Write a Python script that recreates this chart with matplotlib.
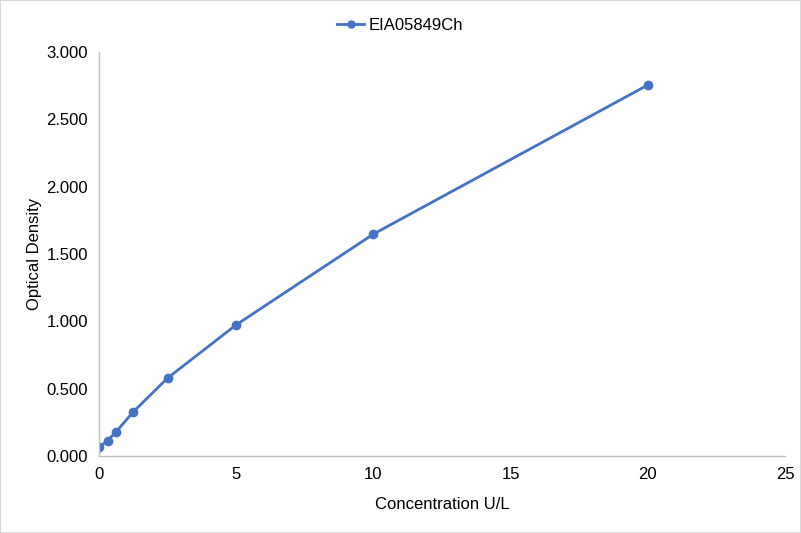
import matplotlib
matplotlib.use("Agg")
import matplotlib.pyplot as plt
from matplotlib.patches import Rectangle

plt.rcParams['font.family'] = ['Liberation Sans', 'DejaVu Sans']

# data
conc = [0, 0.3125, 0.625, 1.25, 2.5, 5, 10, 20]
od = [0.065, 0.114, 0.180, 0.328, 0.579, 0.974, 1.648, 2.755]
series_name = 'EIA05849Ch'

fig = plt.figure(figsize=(8.01, 5.33), dpi=100)
ax = fig.add_axes([99/801, 1-456/533, (785-99)/801, (456-52)/533])

ax.plot(conc, od, color='#4472C4', linewidth=2, marker='o', markersize=6,
        label=series_name)

ax.set_xlim(0, 25)
ax.set_ylim(0, 3.0)
ax.set_xticks([0, 5, 10, 15, 20, 25])
ax.set_yticks([0, 0.5, 1.0, 1.5, 2.0, 2.5, 3.0])
ax.set_yticklabels(['%.3f' % v for v in ax.get_yticks()])

for s in ['top', 'right']:
    ax.spines[s].set_visible(False)
for s in ['left', 'bottom']:
    ax.spines[s].set_color('#BFBFBF')
    ax.spines[s].set_linewidth(1)
ax.tick_params(length=0, labelsize=12, colors='black', pad=8)

ax.set_xlabel('Concentration U/L', fontsize=12, labelpad=11)
ax.set_ylabel('Optical Density', fontsize=12, labelpad=3)

# legend is centred on the whole figure, not on the plot area
leg = fig.legend(loc='upper center', bbox_to_anchor=(0.5, 0.995), frameon=False,
                 fontsize=12, handlelength=1.6, handletextpad=0.3)
for h in leg.legend_handles:
    h.set_markersize(5)

fig.patches.append(Rectangle((0.0, 0.0), 1, 1, transform=fig.transFigure,
                             fill=False, edgecolor='#D9D9D9', linewidth=1.5))

fig.savefig('out.png', dpi=100)
